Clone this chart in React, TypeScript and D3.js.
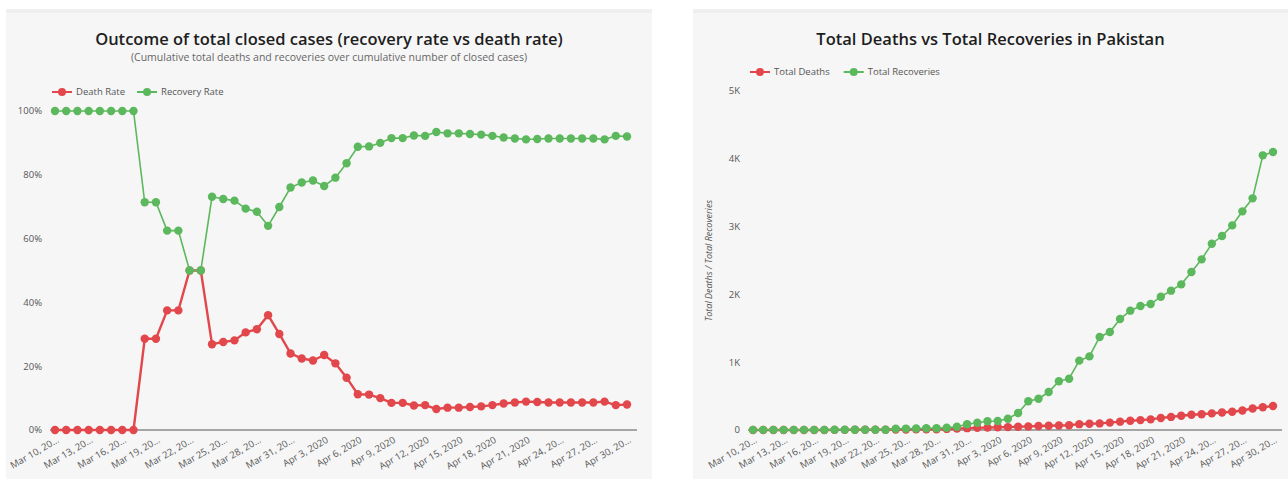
import * as d3 from "d3"
import { useEffect, useRef } from "react"

// one point per day, Mar 10 - Apr 30 2020
const dates = d3.timeDay.range(new Date(2020, 2, 10), new Date(2020, 4, 1))

const tickLabels = [
  "Mar 10, 20…", "Mar 13, 20…", "Mar 16, 20…", "Mar 19, 20…", "Mar 22, 20…",
  "Mar 25, 20…", "Mar 28, 20…", "Mar 31, 20…", "Apr 3, 2020", "Apr 6, 2020",
  "Apr 9, 2020", "Apr 12, 2020", "Apr 15, 2020", "Apr 18, 2020", "Apr 21, 2020",
  "Apr 24, 20…", "Apr 27, 20…", "Apr 30, 20…",
]

const deathRate = [
  0, 0, 0, 0, 0, 0, 0, 0, 28.6, 28.6, 37.5, 37.5, 50, 50, 26.9, 27.6, 28.1,
  30.6, 31.6, 36.0, 30.1, 24.0, 22.4, 21.8, 23.5, 20.9, 16.4, 11.2, 11.1, 10.0,
  8.5, 8.5, 7.7, 7.8, 6.6, 7.0, 7.0, 7.2, 7.4, 7.8, 8.3, 8.6, 8.9, 8.8, 8.6,
  8.6, 8.6, 8.6, 8.6, 8.9, 7.8, 8.0,
]

const recoveryRate = [
  100, 100, 100, 100, 100, 100, 100, 100, 71.4, 71.4, 62.5, 62.5, 50, 50, 73.1,
  72.4, 71.9, 69.4, 68.4, 64.0, 69.9, 76.0, 77.6, 78.2, 76.5, 79.1, 83.6, 88.8,
  88.9, 90.0, 91.5, 91.5, 92.3, 92.2, 93.4, 93.0, 93.0, 92.8, 92.6, 92.2, 91.7,
  91.4, 91.1, 91.2, 91.4, 91.4, 91.4, 91.4, 91.4, 91.1, 92.2, 92.0,
]

const totalDeaths = [
  0, 0, 0, 0, 0, 0, 0, 0, 2, 2, 3, 3, 5, 5, 7, 8, 9, 11, 12, 16, 21, 27, 31,
  35, 40, 43, 48, 53, 58, 62, 67, 70, 86, 92, 97, 109, 123, 137, 146, 157, 178,
  193, 210, 225, 232, 245, 258, 270, 288, 318, 336, 354,
]

const totalRecoveries = [
  2, 2, 2, 2, 2, 2, 2, 2, 5, 5, 5, 5, 5, 5, 19, 21, 23, 25, 26, 34, 49, 84, 108,
  128, 133, 165, 250, 425, 462, 560, 718, 757, 1023, 1086, 1372, 1445, 1637,
  1760, 1829, 1858, 1966, 2055, 2148, 2330, 2517, 2748, 2861, 3018, 3225, 3417,
  4051, 4100,
]

const rateTicks = [0, 20, 40, 60, 80, 100]
const countTicks = [0, 1000, 2000, 3000, 4000, 5000]

const RED = "#e2474b"
const GREEN = "#5cb85c"
const FONT = "'Open Sans', Lato, sans-serif"

type Series = { name: string; color: string; values: number[]; width: number }

type PanelOptions = {
  x0: number
  x1: number
  plotLeft: number
  plotRight: number
  axisLeft: number
  axisRight: number
  top: number
  bottom: number
  title: string
  subtitle?: string
  legendY: number
  legendX: number
  legendGap: number
  yMax: number
  yTicks: number[]
  yFormat: (d: number) => string
  yTitle?: string
  series: Series[]
}

const drawPanel = (
  svg: d3.Selection<SVGSVGElement, unknown, null, undefined>,
  o: PanelOptions,
) => {
  const g = svg.append("g")

  g.append("rect")
    .attr("x", o.x0)
    .attr("y", 9)
    .attr("width", o.x1 - o.x0)
    .attr("height", 480)
    .attr("fill", "#f6f6f6")
  // faint shade along the top edge
  g.append("rect")
    .attr("x", o.x0)
    .attr("y", 9)
    .attr("width", o.x1 - o.x0)
    .attr("height", 4)
    .attr("fill", "#efefef")

  const cx = (o.x0 + o.x1) / 2
  g.append("text")
    .attr("x", cx)
    .attr("y", 45)
    .attr("text-anchor", "middle")
    .attr("font-family", FONT)
    .attr("font-size", "16.5px")
    .attr("font-weight", 600)
    .attr("fill", "#1e1e1e")
    .text(o.title)

  if (o.subtitle) {
    g.append("text")
      .attr("x", cx)
      .attr("y", 61)
      .attr("text-anchor", "middle")
      .attr("font-family", FONT)
      .attr("font-size", "10.5px")
      .attr("fill", "#666")
      .text(o.subtitle)
  }

  const x = d3
    .scalePoint<number>()
    .domain(dates.map((_, i) => i))
    .range([o.plotLeft, o.plotRight])

  const y = d3.scaleLinear().domain([0, o.yMax]).range([o.bottom, o.top])

  // y tick labels
  g.selectAll("text.ytick")
    .data(o.yTicks)
    .join("text")
    .attr("class", "ytick")
    .attr("x", o.axisLeft - 8)
    .attr("y", (d) => y(d))
    .attr("dy", "0.35em")
    .attr("text-anchor", "end")
    .attr("font-family", FONT)
    .attr("font-size", "9.5px")
    .attr("fill", "#555")
    .text((d) => o.yFormat(d))

  if (o.yTitle) {
    g.append("text")
      .attr("transform", `translate(${o.axisLeft - 36}, ${(o.top + o.bottom) / 2}) rotate(-90)`)
      .attr("text-anchor", "middle")
      .attr("font-family", FONT)
      .attr("font-size", "9px")
      .attr("font-style", "italic")
      .attr("fill", "#555")
      .text(o.yTitle)
  }

  // x axis line
  g.append("line")
    .attr("x1", o.axisLeft)
    .attr("x2", o.axisRight)
    .attr("y1", y(0))
    .attr("y2", y(0))
    .attr("stroke", "#8a8a8a")
    .attr("stroke-width", 1.5)

  // x tick labels, every 3rd day
  const tickIdx = dates.map((_, i) => i).filter((i) => i % 3 === 0)
  g.selectAll("text.xtick")
    .data(tickIdx)
    .join("text")
    .attr("class", "xtick")
    .attr("transform", (d) => `translate(${(x(d) ?? 0) + 3}, ${y(0) + 9}) rotate(-30)`)
    .attr("text-anchor", "end")
    .attr("dy", "0.35em")
    .attr("font-family", FONT)
    .attr("font-size", "9.5px")
    .attr("fill", "#555")
    .text((_, i) => tickLabels[i])

  const line = d3
    .line<number>()
    .x((_, i) => x(i) ?? 0)
    .y((d) => y(d))

  o.series.forEach((s) => {
    g.append("path")
      .datum(s.values)
      .attr("fill", "none")
      .attr("stroke", s.color)
      .attr("stroke-width", s.width)
      .attr("d", line)
    g.append("g")
      .selectAll("circle")
      .data(s.values)
      .join("circle")
      .attr("cx", (_, i) => x(i) ?? 0)
      .attr("cy", (d) => y(d))
      .attr("r", 4.2)
      .attr("fill", s.color)
  })

  // legend
  let lx = o.legendX
  o.series.forEach((s) => {
    g.append("line")
      .attr("x1", lx)
      .attr("x2", lx + 20)
      .attr("y1", o.legendY)
      .attr("y2", o.legendY)
      .attr("stroke", s.color)
      .attr("stroke-width", 2)
    g.append("circle")
      .attr("cx", lx + 10)
      .attr("cy", o.legendY)
      .attr("r", 4)
      .attr("fill", s.color)
    const t = g
      .append("text")
      .attr("x", lx + 24)
      .attr("y", o.legendY)
      .attr("dy", "0.35em")
      .attr("font-family", FONT)
      .attr("font-size", "9.5px")
      .attr("fill", "#555")
      .text(s.name)
    const w = (t.node() as SVGTextElement).getComputedTextLength()
    lx += 24 + w + o.legendGap
  })
}

const App = () => {
  const svgRef = useRef<SVGSVGElement>(null)

  useEffect(() => {
    if (!svgRef.current) return
    const svg = d3.select(svgRef.current)
    svg.selectAll("*").remove()

    drawPanel(svg, {
      x0: 6,
      x1: 652,
      plotLeft: 55,
      plotRight: 627,
      axisLeft: 50,
      axisRight: 637,
      top: 111,
      bottom: 430,
      title: "Outcome of total closed cases (recovery rate vs death rate)",
      subtitle:
        "(Cumulative total deaths and recoveries over cumulative number of closed cases)",
      legendX: 52,
      legendY: 92,
      legendGap: 12,
      yMax: 100,
      yTicks: rateTicks,
      yFormat: (d) => `${d}%`,
      series: [
        { name: "Death Rate", color: RED, values: deathRate, width: 2.4 },
        { name: "Recovery Rate", color: GREEN, values: recoveryRate, width: 1.6 },
      ],
    })

    drawPanel(svg, {
      x0: 693,
      x1: 1288,
      plotLeft: 753,
      plotRight: 1273,
      axisLeft: 748,
      axisRight: 1282,
      top: 91,
      bottom: 430,
      title: "Total Deaths vs Total Recoveries in Pakistan",
      legendX: 750,
      legendY: 72,
      legendGap: 14,
      yMax: 5000,
      yTicks: countTicks,
      yFormat: (d) => (d === 0 ? "0" : `${d / 1000}K`),
      yTitle: "Total Deaths / Total Recoveries",
      series: [
        { name: "Total Deaths", color: RED, values: totalDeaths, width: 2.4 },
        { name: "Total Recoveries", color: GREEN, values: totalRecoveries, width: 1.6 },
      ],
    })
  }, [])

  return (
    <svg
      ref={svgRef}
      width={1288}
      height={479}
      style={{ position: "absolute", left: 0, top: 0, display: "block", background: "#fff" }}
    />
  )
}

export default App
